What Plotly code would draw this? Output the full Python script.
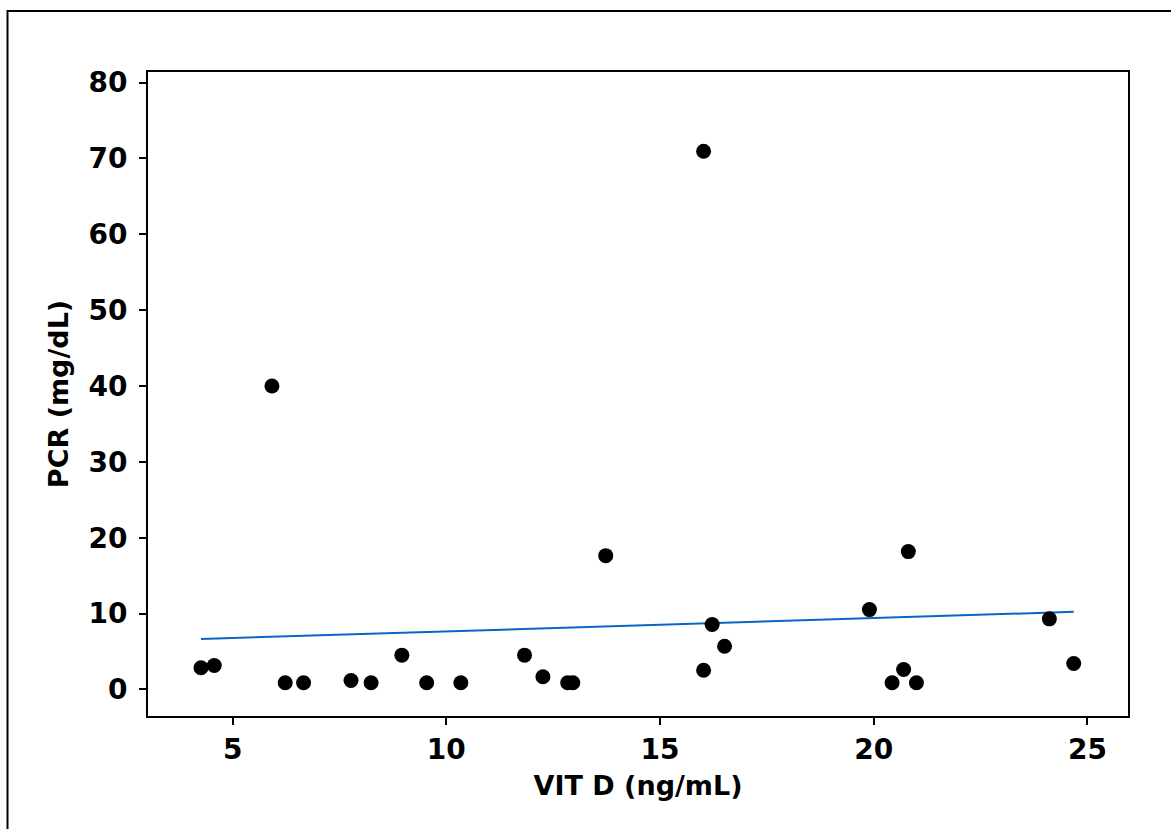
import numpy as np
import plotly.graph_objects as go

# Vitamin D (ng/mL) vs PCR (mg/dL) per patient
vit_d = [4.26, 4.57, 5.92, 6.23, 6.66, 7.77, 8.24, 8.96, 9.54, 10.34,
         11.83, 12.26, 12.84, 12.96, 13.73, 16.02, 16.02, 16.22, 16.51,
         19.90, 20.43, 20.70, 20.81, 21.00, 24.11, 24.68]
pcr = [2.86, 3.16, 40.0, 0.88, 0.88, 1.18, 0.88, 4.52, 0.88, 0.88,
       4.52, 1.67, 0.88, 0.88, 17.64, 70.96, 2.54, 8.56, 5.70,
       10.53, 0.88, 2.63, 18.17, 0.88, 9.31, 3.42]

x_ticks = [5, 10, 15, 20, 25]
y_ticks = [0, 10, 20, 30, 40, 50, 60, 70, 80]

# least-squares fit line across the observed VIT D span
slope, intercept = np.polyfit(vit_d, pcr, 1)
fit_x = [min(vit_d), max(vit_d)]
fit_y = [intercept + slope * v for v in fit_x]

FONT = "DejaVu Sans"
tick_font = dict(family=FONT, size=28, color="black", weight="bold")
title_font = dict(family=FONT, size=27, color="black", weight="bold")

fig = go.Figure()
fig.add_trace(go.Scatter(
    x=fit_x, y=fit_y, mode="lines",
    line=dict(color="#0a64c8", width=2),
    showlegend=False, hoverinfo="skip",
))
fig.add_trace(go.Scatter(
    x=vit_d, y=pcr, mode="markers",
    marker=dict(color="black", size=15, line=dict(width=0)),
    showlegend=False,
))

axis_common = dict(
    showgrid=False, zeroline=False,
    showline=True, linecolor="black", linewidth=2, mirror=True,
    ticks="outside", ticklen=7, tickwidth=2, tickcolor="black",
    tickfont=tick_font,
)

fig.update_layout(
    width=1171, height=829, autosize=False,
    margin=dict(l=148, r=43, t=72, b=113),
    paper_bgcolor="white", plot_bgcolor="white",
    xaxis=dict(
        range=[3.02, 25.95], tickvals=x_ticks,
        title=dict(text="VIT D (ng/mL)", standoff=12, font=title_font),
        **axis_common,
    ),
    yaxis=dict(
        range=[-3.5, 81.4], tickvals=y_ticks,
        ticklabelstandoff=6,
        title=dict(text="PCR (mg/dL)", standoff=12, font=title_font),
        **axis_common,
    ),
    shapes=[dict(
        type="rect", xref="paper", yref="paper",
        x0=(7.5 - 148) / 980, x1=(1190 - 148) / 980,
        y0=(716 - 850) / 644, y1=(716 - 11) / 644,
        line=dict(color="black", width=2), fillcolor="rgba(0,0,0,0)",
        layer="below",
    )],
)

fig.write_html("out.html")
